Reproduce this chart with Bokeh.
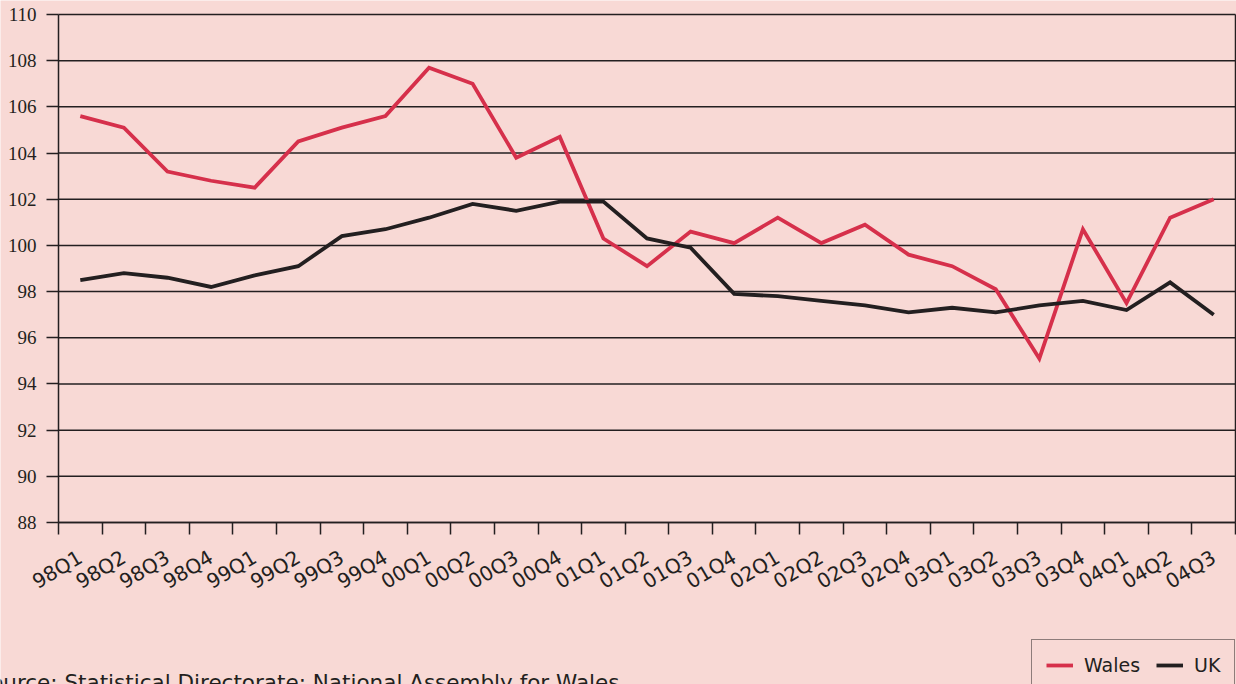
import math
from bokeh.plotting import figure
from bokeh.models import Range1d, FixedTicker, Label, Legend, LegendItem, LinearAxis
from bokeh.embed import file_html
from bokeh.resources import INLINE

quarters = ["98Q1", "98Q2", "98Q3", "98Q4", "99Q1", "99Q2", "99Q3", "99Q4",
            "00Q1", "00Q2", "00Q3", "00Q4", "01Q1", "01Q2", "01Q3", "01Q4",
            "02Q1", "02Q2", "02Q3", "02Q4", "03Q1", "03Q2", "03Q3", "03Q4",
            "04Q1", "04Q2", "04Q3"]
wales = [105.6, 105.1, 103.2, 102.8, 102.5, 104.5, 105.1, 105.6,
         107.7, 107.0, 103.8, 104.7, 100.3, 99.1, 100.6, 100.1,
         101.2, 100.1, 100.9, 99.6, 99.1, 98.1, 95.1, 100.7,
         97.5, 101.2, 102.0]
uk = [98.5, 98.8, 98.6, 98.2, 98.7, 99.1, 100.4, 100.7,
      101.2, 101.8, 101.5, 101.9, 101.9, 100.3, 99.9, 97.9,
      97.8, 97.6, 97.4, 97.1, 97.3, 97.1, 97.4, 97.6,
      97.2, 98.4, 97.0]
y_ticks = list(range(88, 111, 2))
series_names = ["Wales", "UK"]
source_text = "Source:   Statistical Directorate: National Assembly for Wales"

BG = "#F8D9D5"
RED = "#D6304B"
DARK = "#231F20"
LW = 3.8

# page layout (pixels): the plotting box inside the 1236x684 canvas
W, H = 1236, 684
BOX_L, BOX_R, BOX_T, BOX_B = 58, 1235, 14, 522

n = len(quarters)
xs = list(range(n))
x_lo, x_hi = -0.5, n - 0.5
y_lo, y_hi = min(y_ticks), max(y_ticks)

# ranges chosen so that the data box lands on the pixel box above
xpu = (BOX_R - BOX_L) / (x_hi - x_lo)
ypu = (BOX_B - BOX_T) / (y_hi - y_lo)
x_range = Range1d(x_lo - BOX_L / xpu, x_hi + (W - BOX_R) / xpu)
y_range = Range1d(y_lo - (H - BOX_B) / ypu, y_hi + BOX_T / ypu)

p = figure(width=W, height=H, output_backend="svg", toolbar_location=None,
           x_range=x_range, y_range=y_range,
           min_border=0, min_border_left=0, min_border_right=0,
           min_border_top=0, min_border_bottom=0,
           background_fill_color=BG, border_fill_color=BG)
p.outline_line_color = None
p.grid.visible = False

# horizontal grid lines at the y ticks, spanning the plotting box
p.segment(x0=[x_lo] * len(y_ticks), x1=[x_hi] * len(y_ticks),
          y0=y_ticks, y1=y_ticks, line_color=DARK, line_width=1.5,
          level="underlay")

rw = p.line(xs, wales, line_color=RED, line_width=LW, line_join="miter")
ru = p.line(xs, uk, line_color=DARK, line_width=LW, line_join="miter")

# x axis: labels at quarter centres, tick marks at boundaries (minor ticks)
xa = p.xaxis[0]
xa.fixed_location = y_lo
xa.bounds = (x_lo, x_hi)
xa.ticker = FixedTicker(ticks=xs, minor_ticks=[i - 0.5 for i in range(n + 1)])
xa.major_label_overrides = {i: q for i, q in zip(xs, quarters)}
xa.major_tick_out = 0
xa.major_tick_in = 0
xa.minor_tick_out = 12
xa.minor_tick_in = 0
xa.minor_tick_line_color = DARK
xa.minor_tick_line_width = 1.5
xa.axis_line_color = DARK
xa.axis_line_width = 1.5
xa.major_label_orientation = math.radians(31)
xa.major_label_standoff = 21
xa.major_label_text_font = "DejaVu Sans"
xa.major_label_text_font_size = "20px"
xa.major_label_text_color = DARK

# y axis
ya = p.yaxis[0]
ya.fixed_location = x_lo
ya.bounds = (y_lo, y_hi)
ya.ticker = FixedTicker(ticks=y_ticks)
ya.major_tick_out = 12
ya.major_tick_in = 0
ya.minor_tick_out = 0
ya.minor_tick_in = 0
ya.major_tick_line_color = DARK
ya.major_tick_line_width = 1.5
ya.axis_line_color = DARK
ya.axis_line_width = 1.5
ya.major_label_standoff = 10
ya.major_label_text_font = "Liberation Serif"
ya.major_label_text_font_size = "19px"
ya.major_label_text_color = DARK

# right border of the plotting box
ra = LinearAxis(fixed_location=x_hi, bounds=(y_lo, y_hi),
                ticker=FixedTicker(ticks=[]), axis_line_color=DARK,
                axis_line_width=1.5, major_tick_out=0, major_tick_in=0,
                minor_tick_out=0, minor_tick_in=0)
p.add_layout(ra, "right")

legend = Legend(items=[LegendItem(label=series_names[0], renderers=[rw]),
                       LegendItem(label=series_names[1], renderers=[ru])],
                orientation="horizontal", location=(1031, -7),
                label_text_font="DejaVu Sans", label_text_font_size="19px",
                label_text_color=DARK, label_height=20,
                glyph_width=27, glyph_height=20, label_standoff=11,
                spacing=16, padding=14, margin=0,
                border_line_color=DARK, border_line_width=1.5,
                background_fill_color=BG, background_fill_alpha=1.0)
p.add_layout(legend)

src = Label(x=-24, y=2, x_units="screen", y_units="screen",
            text=source_text, text_font="DejaVu Sans",
            text_font_size="21.5px", text_color=DARK, text_baseline="alphabetic")
p.add_layout(src)

open("out.html", "w").write(file_html(p, INLINE))
